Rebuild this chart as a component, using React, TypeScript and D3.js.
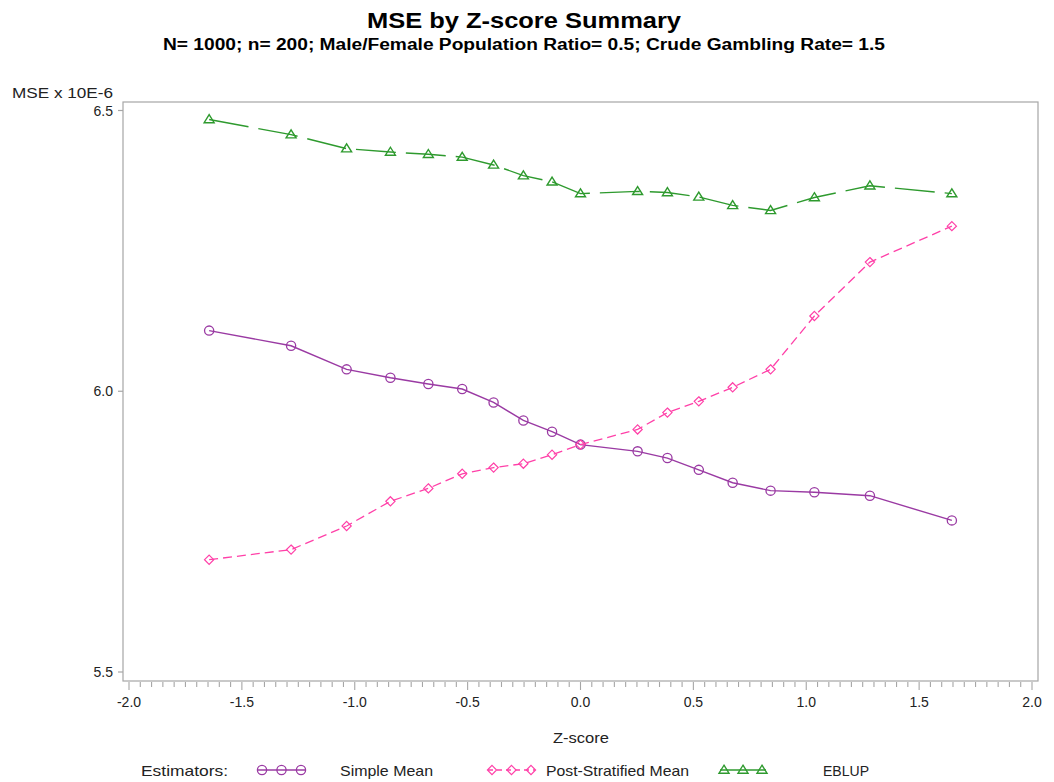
import React from "react";
import * as d3 from "d3";

// Z-score quantile positions (standard normal)
const zScores = [
  -1.645, -1.282, -1.036, -0.842, -0.674, -0.524, -0.385, -0.253, -0.126, 0,
  0.253, 0.385, 0.524, 0.674, 0.842, 1.036, 1.282, 1.645,
];

// MSE (x 10E-6) by estimator
const simpleMean = [
  6.108, 6.081, 6.039, 6.024, 6.013, 6.004, 5.98, 5.948, 5.928, 5.905,
  5.893, 5.881, 5.86, 5.837, 5.823, 5.82, 5.814, 5.77,
];
const postStratifiedMean = [
  5.7, 5.718, 5.76, 5.804, 5.827, 5.853, 5.864, 5.871, 5.887, 5.905,
  5.932, 5.962, 5.982, 6.007, 6.039, 6.134, 6.23, 6.294,
];
const eblup = [
  6.484, 6.457, 6.432, 6.426, 6.422, 6.417, 6.403, 6.384, 6.373, 6.352,
  6.356, 6.354, 6.346, 6.331, 6.322, 6.345, 6.366, 6.352,
];

const xTicks = [-2.0, -1.5, -1.0, -0.5, 0.0, 0.5, 1.0, 1.5, 2.0];
const yTicks = [5.5, 6.0, 6.5];

const FONT = "'Liberation Sans', Arial, Helvetica, sans-serif";
const PURPLE = "#9a3aa3";
const PINK = "#ff40a8";
const GREEN = "#2e9a2e";
const FRAME = "#a6a6a6";
const TEXT = "#222";

type Shape = "circle" | "diamond" | "triangle";

function Marker({ x, y, shape, color }: { x: number; y: number; shape: Shape; color: string }) {
  if (shape === "circle") {
    return <circle cx={x} cy={y} r={4.6} fill="none" stroke={color} strokeWidth={1.3} />;
  }
  if (shape === "diamond") {
    const s = 4.6;
    return (
      <path
        d={`M${x},${y - s}L${x + s},${y}L${x},${y + s}L${x - s},${y}Z`}
        fill="none"
        stroke={color}
        strokeWidth={1.2}
      />
    );
  }
  const h = 8;
  const w = 5;
  return (
    <path
      d={`M${x},${y - h * 0.6}L${x + w},${y + h * 0.4}L${x - w},${y + h * 0.4}Z`}
      fill="none"
      stroke={color}
      strokeWidth={1.4}
    />
  );
}

export default function App() {
  const width = 1054;
  const height = 782;
  const frame = { left: 123, right: 1038, top: 102, bottom: 681 };

  const x = d3.scaleLinear().domain([-2, 2]).range([129, 1032]);
  const y = d3.scaleLinear().domain([5.5, 6.5]).range([672, 110.5]);

  const line = d3
    .line<[number, number]>()
    .x((d) => x(d[0]))
    .y((d) => y(d[1]));

  const series = [
    { name: "Simple Mean", values: simpleMean, color: PURPLE, shape: "circle" as Shape, dash: undefined as string | undefined, width: 1.4, len: 93 },
    { name: "Post-Stratified Mean", values: postStratifiedMean, color: PINK, shape: "diamond" as Shape, dash: "9 5", width: 1.3, len: 143 },
    { name: "EBLUP", values: eblup, color: GREEN, shape: "triangle" as Shape, dash: "40 10", width: 1.4, len: 46 },
  ];

  const minorTicks = d3.range(-2, 2.0001, 0.05).map((v) => Math.round(v * 100) / 100);

  const legendY = 770;
  const legendItems = [
    { s: series[0], x0: 258, x1: 305, text: 340 },
    { s: series[1], x0: 488, x1: 535, text: 546 },
    { s: series[2], x0: 720, x1: 766, text: 823 },
  ];

  return (
    <svg
      width={width}
      height={height}
      style={{ position: "absolute", left: 0, top: 0, background: "#fff" }}
      fontFamily={FONT}
    >
      {/* Titles */}
      <text x={367} y={28} fontSize={22} fontWeight="bold" fill="#000" textLength={314} lengthAdjust="spacingAndGlyphs">
        MSE by Z-score Summary
      </text>
      <text x={163} y={50} fontSize={16} fontWeight="bold" fill="#000" textLength={722} lengthAdjust="spacingAndGlyphs">
        N= 1000; n= 200; Male/Female Population Ratio= 0.5; Crude Gambling Rate= 1.5
      </text>

      {/* Y axis label */}
      <text x={12} y={98} fontSize={14} fill={TEXT} textLength={101} lengthAdjust="spacingAndGlyphs">
        MSE x 10E-6
      </text>

      {/* Plot frame */}
      <rect
        x={frame.left}
        y={frame.top}
        width={frame.right - frame.left}
        height={frame.bottom - frame.top}
        fill="none"
        stroke={FRAME}
        strokeWidth={1.2}
      />

      {/* Y ticks */}
      {yTicks.map((t) => (
        <g key={`y${t}`}>
          <line x1={frame.left - 5} x2={frame.left} y1={y(t)} y2={y(t)} stroke={FRAME} strokeWidth={1.2} />
          <text x={113} y={y(t) + 5} textAnchor="end" fontSize={14} fill={TEXT}>
            {t.toFixed(1)}
          </text>
        </g>
      ))}

      {/* X ticks */}
      {minorTicks.map((t) => {
        const major = xTicks.some((m) => Math.abs(m - t) < 1e-6);
        return (
          <line
            key={`xm${t}`}
            x1={x(t)}
            x2={x(t)}
            y1={frame.bottom + 1}
            y2={frame.bottom + (major ? 9 : 6)}
            stroke={FRAME}
            strokeWidth={1.1}
          />
        );
      })}
      {xTicks.map((t) => (
        <text key={`xl${t}`} x={x(t)} y={707} textAnchor="middle" fontSize={14} fill={TEXT}>
          {t.toFixed(1)}
        </text>
      ))}
      <text x={553} y={743} fontSize={15} fill={TEXT} textLength={56} lengthAdjust="spacingAndGlyphs">
        Z-score
      </text>

      {/* Series */}
      {series.map((s) => {
        const pts = zScores.map((z, i) => [z, s.values[i]] as [number, number]);
        return (
          <g key={s.name}>
            <path
              d={line(pts) ?? ""}
              fill="none"
              stroke={s.color}
              strokeWidth={s.width}
              strokeDasharray={s.dash}
            />
            {pts.map((p, i) => (
              <Marker key={i} x={x(p[0])} y={y(p[1])} shape={s.shape} color={s.color} />
            ))}
          </g>
        );
      })}

      {/* Legend */}
      <text x={141} y={legendY + 6} fontSize={15} fill={TEXT} textLength={87} lengthAdjust="spacingAndGlyphs">
        Estimators:
      </text>
      {legendItems.map(({ s, x0, x1, text }) => {
        const xs = [x0 + 4, (x0 + x1) / 2, x1 - 4];
        return (
          <g key={`lg${s.name}`}>
            <line
              x1={x0}
              x2={x1}
              y1={legendY}
              y2={legendY}
              stroke={s.color}
              strokeWidth={1.4}
              strokeDasharray={s.shape === "diamond" ? "5 4" : undefined}
            />
            {xs.map((px, i) => (
              <Marker key={i} x={px} y={legendY} shape={s.shape} color={s.color} />
            ))}
            <text x={text} y={legendY + 6} fontSize={15} fill={TEXT} textLength={s.len} lengthAdjust="spacingAndGlyphs">
              {s.name}
            </text>
          </g>
        );
      })}
    </svg>
  );
}
